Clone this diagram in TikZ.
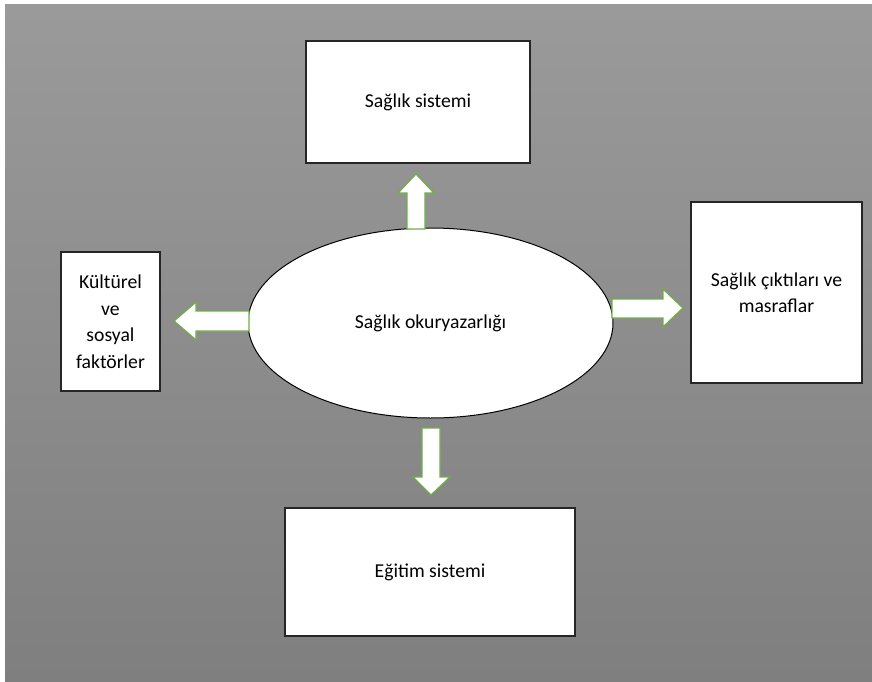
\documentclass[tikz,border=0pt]{standalone}
\usepackage{fontspec}
\setmainfont{Carlito}
\usetikzlibrary{shapes.geometric}
\definecolor{arrowgreen}{RGB}{112,173,71}
\definecolor{boxline}{RGB}{38,38,38}
\definecolor{bgtop}{RGB}{154,154,154}
\definecolor{bgbottom}{RGB}{127,127,127}

\begin{document}
\begin{tikzpicture}[x=1pt,y=-1pt]
  % some styles
  \tikzset{
    box/.style={
      draw=boxline,
      line width=1.2pt,
      fill=white,
      inner sep=0pt,
      align=center,
      font=\fontsize{19.7}{26.5}\selectfont
    },
    oval/.style={
      ellipse,
      draw=black,
      line width=1pt,
      fill=white,
      inner sep=0pt,
      minimum width=365pt,
      minimum height=190pt,
      font=\fontsize{19.7}{24}\selectfont
    },
    blockarrow/.style={
      draw=arrowgreen,
      line width=1.3pt,
      fill=white,
      line join=miter
    }
  }

\useasboundingbox (0,0) rectangle (872,682);
\fill[white] (0,0) rectangle (872,682);
\shade[top color=bgtop, bottom color=bgbottom] (5,5) rectangle (872,682);

% boxes round the centre
\node[box, minimum width=224pt, minimum height=122pt] (system) at (418,102) {Sağlık sistemi};
\node[box, minimum width=171pt, minimum height=181pt] (outcomes) at (776.5,292.5) {Sağlık çıktıları ve\\masraflar};
\node[box, minimum width=99pt, minimum height=139pt] (culture) at (110.5,321.5) {Kültürel\\ve\\sosyal\\faktörler};
\node[box, minimum width=290pt, minimum height=128pt] (education) at (430,572) {Eğitim sistemi};

% centre
\node[oval] (literacy) at (430.5,323) {Sağlık okuryazarlığı};

% block arrows
\draw[blockarrow] (407,229) -- (407,193) -- (398,193) -- (416,174) -- (434,193) -- (425,193) -- (425,229) -- cycle;
\draw[blockarrow] (249,311) -- (196,311) -- (196,302) -- (174,321) -- (196,340) -- (196,331) -- (249,331) -- cycle;
\draw[blockarrow] (612,299) -- (663,299) -- (663,289) -- (683,308) -- (663,327) -- (663,318) -- (612,318) -- cycle;
\draw[blockarrow] (422,428) -- (440,428) -- (440,477) -- (450,477) -- (431,495) -- (413,477) -- (422,477) -- cycle;

\end{tikzpicture}
\end{document}
